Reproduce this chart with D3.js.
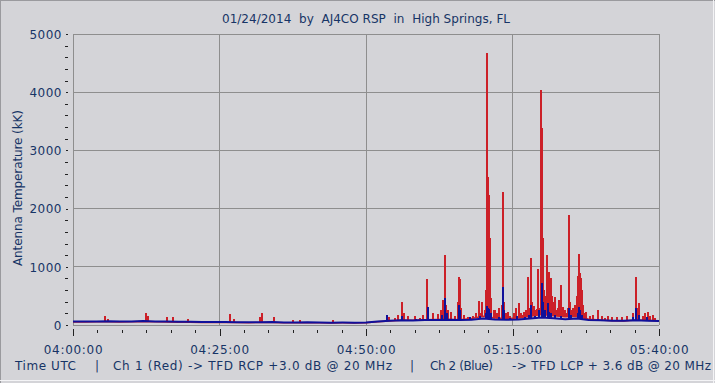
<!DOCTYPE html>
<html>
<head>
<meta charset="utf-8">
<script src="https://cdn.jsdelivr.net/npm/d3@7"></script>
<style>
  html, body { margin: 0; padding: 0; background: #d4d4d8; }
  svg { display: block; }
  text { font-family: "DejaVu Sans", Verdana, sans-serif; white-space: pre; }
</style>
</head>
<body>
<svg id="chart" width="715" height="383"></svg>
<script>
// ---------------- DATA ----------------
const title = "01/24/2014  by  AJ4CO RSP  in  High Springs, FL";
const yAxisTitle = "Antenna Temperature (kK)";
const xTickMinutes = [0, 25, 50, 75, 100];           // minutes after 04:00 UTC
const xTickLabels = ["04:00:00", "04:25:00", "04:50:00", "05:15:00", "05:40:00"];
const yTickValues = [0, 1000, 2000, 3000, 4000, 5000];
const captionParts = ["Time UTC", "|", "Ch 1 (Red) -> TFD RCP +3.0 dB @ 20 MHz", "|", "Ch 2 (Blue)", "-> TFD LCP + 3.6 dB @ 20 MHz"];

// baseline samples (minutes after 04:00, kK)
const baseMinutes = [0,2,4,6,8,10,12,14,16,18,20,22,24,26,28,30,32,34,36,38,40,42,44,46,48,50,
                     52,54,56,58,60,62,64,66,68,70,72,74,76,78,80,82,84,86,88,90,92,94,96,98,100];
const redBase  = [50,50,55,55,52,55,60,55,50,48,48,45,45,45,42,40,42,45,40,40,40,38,36,38,36,38,
                  55,70,80,80,90,95,95,90,110,150,120,110,120,150,180,160,140,150,100,85,75,70,85,80,70];
const blueBase = [60,58,62,65,60,62,68,62,58,55,55,52,50,52,48,46,48,50,45,44,46,42,40,42,40,42,
                  60,75,80,78,85,88,90,85,92,110,95,90,95,110,130,115,100,110,85,80,75,72,80,75,70];

// spikes: [minute, kK]
const redSpikes = [
  [5.46,155],[5.97,110],[12.46,211],[12.8,150],[15.99,132],[17.12,132],[19.57,103],
  [26.79,189],[27.47,110],[31.9,130],[32.3,211],[34.35,132],[37.59,86],[38.7,90],[44.4,80],
  [53.53,172],[53.9,130],[54.95,120],[55.5,180],[56.19,395],[56.48,200],[57.2,160],[58.36,155],[59.2,120],
  [59.8,170],[60.46,796],[60.63,300],[61.5,200],[62.24,190],[62.8,250],[63.09,430],[63.53,1203],[63.73,350],[64.0,250],
  [64.5,220],[65.19,150],[65.65,400],[65.82,819],[65.99,790],[66.2,300],[66.8,180],[67.4,130],[68.26,150],
  [68.8,200],[69.33,412],[69.62,200],[69.85,390],[70.3,250],[70.48,600],[70.7,4679],[70.87,2548],
  [71.0,2234],[71.1,1500],[71.2,600],[71.33,470],[71.84,250],[72.0,260],[72.35,200],[72.78,300],
  [73.16,343],[73.43,2285],[73.6,400],[73.89,200],[74.2,220],[74.57,150],[75.2,200],[75.65,287],[76.11,372],
  [76.45,200],[76.79,180],[77.0,230],[77.25,258],[77.7,830],[77.9,300],[78.21,1145],[78.41,400],
  [78.67,326],[79.0,250],[79.2,280],[79.4,957],[79.6,300],[79.91,4038],[80.08,3390],[80.2,1500],
  [80.32,600],[80.55,350],[80.7,500],[80.94,1203],[81.0,450],[81.18,916],[81.3,600],[81.57,802],
  [81.74,500],[81.9,400],[82.25,487],[82.5,250],[82.7,300],[82.94,430],[83.28,687],[83.67,315],
  [83.9,260],[84.13,200],[84.47,300],[84.69,1890],[84.86,400],[85.15,250],[85.4,300],[85.67,343],[86.01,500],
  [86.18,850],[86.4,1214],[86.57,900],[86.69,800],[86.86,600],[87.03,350],[87.37,200],[87.6,220],
  [88.23,150],[88.8,180],[89.64,258],[90.2,160],[90.78,120],[91.3,150],[91.98,130],[92.83,140],[93.69,130],
  [94.5,150],[95.56,200],[96.13,830],[96.33,300],[96.59,378],[97.27,150],[97.6,200],[98.07,229],[98.46,150],
  [99.0,180],[99.3,120]
];
const blueSpikes = [
  [53.53,172],[56.14,150],[58.5,110],[60.53,315],[63.0,180],[63.53,459],[63.8,200],
  [65.87,343],[66.04,250],[67.75,130],[69.45,150],[70.48,200],[70.7,330],[70.9,300],
  [71.07,280],[71.33,200],[72.7,140],[73.43,647],[73.63,250],[74.57,120],[75.77,150],
  [77.13,130],[77.82,180],[78.16,343],[78.84,160],[79.44,250],[79.95,450],[80.03,716],
  [80.2,400],[80.55,250],[81.0,372],[81.23,220],[81.57,200],[82.25,180],[83.28,160],
  [84.69,287],[84.9,180],[86.18,200],[86.4,315],[86.6,250],[86.86,180],[89.6,110],
  [95.56,130],[96.13,287],[96.59,180],[97.95,130]
];

// ---------------- DRAWING ----------------
const W = 715, H = 383;
const svg = d3.select("#chart");
const bg = "#d4d4d8", textCol = "#173466", gridCol = "#8e8e8e";
const redCol = "#cc2028", blueCol = "#10109a";

svg.append("rect").attr("width", W).attr("height", H).attr("fill", bg);
// window-like frame
svg.append("line").attr("x1", 0).attr("x2", W).attr("y1", 0.5).attr("y2", 0.5).attr("stroke", "#9a9a9e").attr("stroke-width", 1);
svg.append("line").attr("x1", 0.5).attr("x2", 0.5).attr("y1", 0).attr("y2", H).attr("stroke", "#9a9a9e").attr("stroke-width", 1);
svg.append("line").attr("x1", 713.5).attr("x2", 713.5).attr("y1", 0).attr("y2", H).attr("stroke", "#f4f4f6").attr("stroke-width", 1);
svg.append("line").attr("x1", 0).attr("x2", W).attr("y1", 380.5).attr("y2", 380.5).attr("stroke", "#f4f4f6").attr("stroke-width", 1);

const x = d3.scaleLinear().domain([0, 100]).range([73, 659]);
const y = d3.scaleLinear().domain([0, 5000]).range([325, 34]);

// gridlines
const grid = svg.append("g").attr("shape-rendering", "crispEdges");
grid.selectAll(".gy").data(yTickValues).join("line")
  .attr("x1", x(0)).attr("x2", x(100)).attr("y1", d => y(d)).attr("y2", d => y(d))
  .attr("stroke", gridCol);
grid.selectAll(".gx").data(xTickMinutes).join("line")
  .attr("x1", d => x(d)).attr("x2", d => x(d)).attr("y1", y(0)).attr("y2", y(5000))
  .attr("stroke", gridCol);

// lines
const baseline = (vals) => baseMinutes.map((m, i) => [m, vals[i]]);
const lineGen = d3.line().x(d => x(d[0])).y(d => y(d[1]));
const interp = (vals, t) => {
  const i = Math.min(baseMinutes.length - 2, Math.max(0, d3.bisectRight(baseMinutes, t) - 1));
  const f = (t - baseMinutes[i]) / (baseMinutes[i + 1] - baseMinutes[i]);
  return vals[i] + f * (vals[i + 1] - vals[i]);
};

function drawSeries(baseVals, spikes, col, w) {
  const g = svg.append("g");
  g.append("path").datum(baseline(baseVals)).attr("d", lineGen)
    .attr("fill", "none").attr("stroke", col).attr("stroke-width", w);
  g.selectAll("line").data(spikes).join("line")
    .attr("x1", d => Math.round(x(d[0]))).attr("x2", d => Math.round(x(d[0])))
    .attr("y1", d => y(interp(baseVals, d[0]))).attr("y2", d => y(d[1]))
    .attr("stroke", col).attr("stroke-width", 2).attr("shape-rendering", "crispEdges");
}
drawSeries(redBase, redSpikes, redCol, 1.5);
drawSeries(blueBase, blueSpikes, blueCol, 2);

// axes: x major
const xAxis = svg.append("g").attr("transform", "translate(0,329)")
  .call(d3.axisBottom(x).tickValues(xTickMinutes).tickSize(7).tickFormat((d, i) => xTickLabels[i]));
xAxis.select(".domain").remove();
xAxis.selectAll("line").attr("stroke", "#222").attr("shape-rendering", "crispEdges");
xAxis.selectAll("text").attr("y", 25).attr("dy", null).attr("fill", textCol)
  .style("font-size", "12px").style("letter-spacing", "0.7px");
// x minor ticks
const xMinor = [];
for (let k = 0; k < xTickMinutes.length - 1; k++)
  for (let j = 1; j < 6; j++) xMinor.push(xTickMinutes[k] + j * (xTickMinutes[k + 1] - xTickMinutes[k]) / 6);
const xAxisMinor = svg.append("g").attr("transform", "translate(0,330)")
  .call(d3.axisBottom(x).tickValues(xMinor).tickSize(3).tickFormat(""));
xAxisMinor.select(".domain").remove();
xAxisMinor.selectAll("line").attr("stroke", "#222").attr("shape-rendering", "crispEdges");

// y axis
const yAxis = svg.append("g").attr("transform", "translate(68,0)")
  .call(d3.axisLeft(y).tickValues(yTickValues).tickSize(2).tickPadding(4).tickFormat(d3.format("d")));
yAxis.select(".domain").remove();
yAxis.selectAll("line").attr("stroke", "#222").attr("shape-rendering", "crispEdges");
yAxis.selectAll("text").attr("dy", "0.36em").attr("fill", textCol)
  .style("font-size", "12px").style("letter-spacing", "0.5px");
const yMinor = [];
for (let k = 0; k < yTickValues.length - 1; k++)
  for (let j = 1; j < 5; j++) yMinor.push(yTickValues[k] + j * (yTickValues[k + 1] - yTickValues[k]) / 5);
const yAxisMinor = svg.append("g").attr("transform", "translate(68,0)")
  .call(d3.axisLeft(y).tickValues(yMinor).tickSize(3).tickFormat(""));
yAxisMinor.select(".domain").remove();
yAxisMinor.selectAll("line").attr("stroke", "#222").attr("shape-rendering", "crispEdges");

// title
svg.append("text").attr("x", 366).attr("y", 23).attr("text-anchor", "middle")
  .attr("fill", textCol).style("font-size", "12px")
  .attr("textLength", 288).attr("lengthAdjust", "spacing").text(title);

// y axis title
svg.append("text").attr("transform", "translate(22,188) rotate(-90)").attr("text-anchor", "middle")
  .attr("fill", textCol).style("font-size", "12px")
  .attr("textLength", 156).attr("lengthAdjust", "spacing").text(yAxisTitle);

// caption
const capX = [15, 95, 113, 410, 430, 512];
const capLen = [61, null, 279, null, 63, 199];
captionParts.forEach((s, i) => {
  const t = svg.append("text").attr("x", capX[i]).attr("y", 370).attr("fill", textCol)
    .style("font-size", "12px").text(s);
  if (capLen[i]) t.attr("textLength", capLen[i]).attr("lengthAdjust", "spacing");
});
</script>
</body>
</html>
